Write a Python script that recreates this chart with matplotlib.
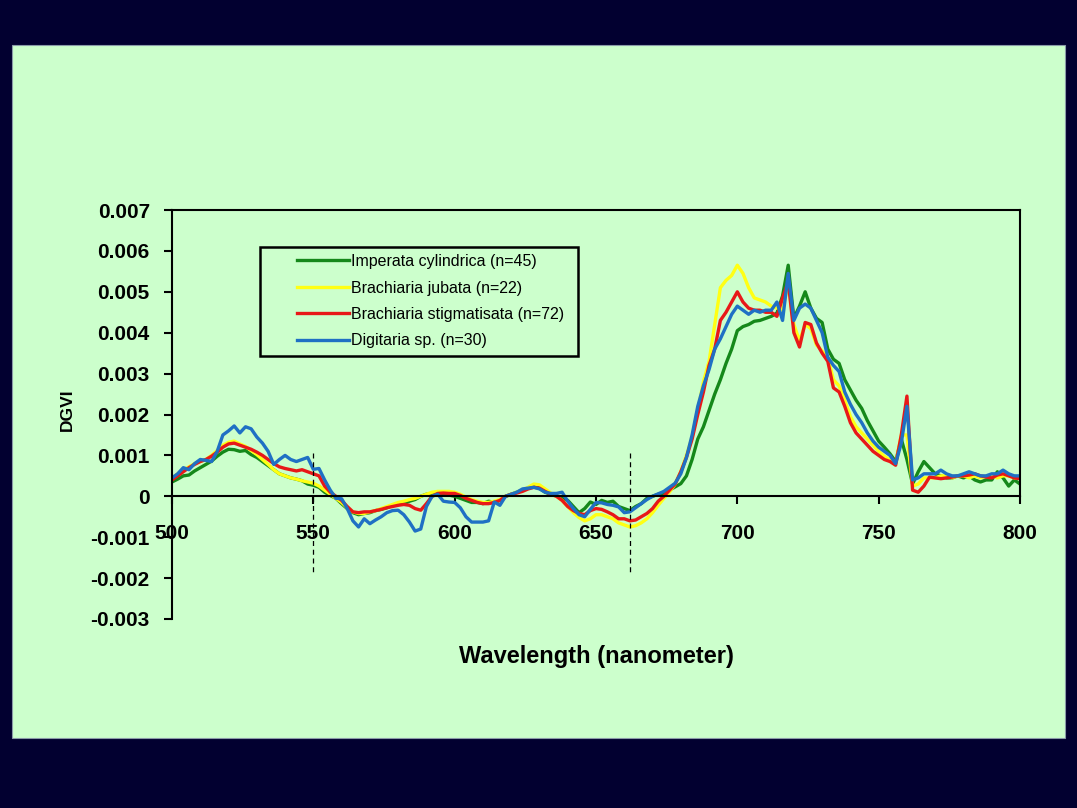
import matplotlib.pyplot as plt
from matplotlib.patches import Rectangle

plt.rcParams['font.family'] = ['Liberation Sans', 'DejaVu Sans']
plt.rcParams['axes.unicode_minus'] = False

# wavelength grid (nm), 2 nm steps
wavelength = list(range(500, 801, 2))

# DGVI values (x 0.001)
imperata = [
    0.35, 0.42, 0.50, 0.52, 0.62, 0.70, 0.78, 0.86, 0.98, 1.08,
    1.15, 1.14, 1.10, 1.12, 1.02, 0.95, 0.85, 0.75, 0.65, 0.55,
    0.50, 0.45, 0.42, 0.38, 0.30, 0.27, 0.22, 0.10, 0.02, -0.05,
    -0.18, -0.30, -0.40, -0.45, -0.42, -0.40, -0.35, -0.32, -0.28, -0.22,
    -0.20, -0.18, -0.12, -0.08, 0.00, 0.05, 0.05, 0.08, 0.05, 0.03,
    0.00, -0.05, -0.10, -0.15, -0.15, -0.18, -0.12, -0.15, -0.10, 0.00,
    0.05, 0.10, 0.15, 0.20, 0.27, 0.20, 0.10, 0.05, 0.02, -0.05,
    -0.10, -0.25, -0.40, -0.30, -0.14, -0.20, -0.10, -0.15, -0.12, -0.25,
    -0.30, -0.35, -0.25, -0.18, -0.05, 0.00, 0.05, 0.07, 0.15, 0.23,
    0.31, 0.50, 0.90, 1.40, 1.70, 2.10, 2.50, 2.85, 3.25, 3.60,
    4.05, 4.15, 4.20, 4.28, 4.30, 4.35, 4.40, 4.48, 4.90, 5.65,
    4.35, 4.65, 5.00, 4.60, 4.35, 4.25, 3.60, 3.35, 3.25, 2.85,
    2.60, 2.35, 2.15, 1.85, 1.60, 1.35, 1.20, 1.04, 0.85, 1.40,
    0.90, 0.30, 0.60, 0.85, 0.70, 0.55, 0.50, 0.45, 0.45, 0.50,
    0.45, 0.50, 0.40, 0.35, 0.40, 0.40, 0.60, 0.45, 0.25, 0.40,
    0.30,
]

jubata = [
    0.45, 0.55, 0.65, 0.72, 0.80, 0.85, 0.90, 1.00, 1.12, 1.25,
    1.32, 1.35, 1.28, 1.22, 1.12, 1.02, 0.90, 0.78, 0.65, 0.55,
    0.50, 0.45, 0.42, 0.38, 0.35, 0.32, 0.25, 0.15, 0.05, -0.05,
    -0.15, -0.28, -0.38, -0.42, -0.42, -0.38, -0.35, -0.30, -0.25, -0.20,
    -0.15, -0.12, -0.08, -0.05, 0.00, 0.05, 0.10, 0.12, 0.12, 0.12,
    0.10, 0.05, -0.02, -0.08, -0.12, -0.15, -0.15, -0.12, -0.08, 0.00,
    0.05, 0.10, 0.15, 0.22, 0.30, 0.28, 0.18, 0.08, 0.00, -0.10,
    -0.25, -0.40, -0.52, -0.60, -0.55, -0.45, -0.45, -0.50, -0.55, -0.65,
    -0.70, -0.75, -0.72, -0.65, -0.55, -0.40, -0.22, -0.05, 0.10, 0.30,
    0.60, 1.00, 1.45, 2.10, 2.80, 3.30, 4.20, 5.10, 5.28, 5.40,
    5.65, 5.45, 5.10, 4.85, 4.80, 4.75, 4.65, 4.60, 4.55, 5.20,
    4.20, 3.80, 4.20, 4.10, 3.70, 3.55, 3.40, 2.85, 2.70, 2.35,
    1.95, 1.70, 1.55, 1.40, 1.25, 1.10, 0.98, 0.88, 0.80, 1.50,
    1.50, 0.25, 0.30, 0.45, 0.45, 0.45, 0.50, 0.50, 0.45, 0.50,
    0.50, 0.45, 0.50, 0.45, 0.50, 0.50, 0.45, 0.50, 0.50, 0.45,
    0.45,
]

stigmatisata = [
    0.40, 0.50, 0.60, 0.70, 0.78, 0.85, 0.90, 0.98, 1.08, 1.20,
    1.28, 1.30, 1.25, 1.20, 1.15, 1.08, 1.00, 0.90, 0.80, 0.72,
    0.68, 0.65, 0.62, 0.65, 0.60, 0.55, 0.50, 0.25, 0.10, 0.00,
    -0.10, -0.25, -0.38, -0.40, -0.38, -0.38, -0.35, -0.32, -0.28, -0.25,
    -0.22, -0.20, -0.22, -0.30, -0.34, -0.18, 0.00, 0.07, 0.08, 0.07,
    0.07, 0.02, -0.05, -0.10, -0.15, -0.18, -0.18, -0.15, -0.10, 0.00,
    0.05, 0.08, 0.12, 0.18, 0.22, 0.20, 0.12, 0.05, 0.00, -0.10,
    -0.25, -0.35, -0.42, -0.45, -0.35, -0.30, -0.32, -0.38, -0.45, -0.55,
    -0.55, -0.60, -0.58, -0.50, -0.42, -0.30, -0.12, 0.00, 0.15, 0.30,
    0.60, 0.95, 1.40, 2.00, 2.55, 3.20, 3.60, 4.30, 4.50, 4.75,
    5.00, 4.75, 4.60, 4.55, 4.55, 4.50, 4.50, 4.40, 4.85, 5.25,
    4.00, 3.65, 4.25, 4.20, 3.75, 3.50, 3.30, 2.65, 2.55, 2.20,
    1.80, 1.55, 1.40, 1.25, 1.10, 1.00, 0.90, 0.85, 0.76, 1.50,
    2.45, 0.15, 0.10, 0.25, 0.47, 0.45, 0.43, 0.45, 0.47, 0.50,
    0.50, 0.52, 0.55, 0.50, 0.47, 0.45, 0.52, 0.55, 0.50, 0.45,
    0.43,
]

digitaria = [
    0.45, 0.55, 0.70, 0.65, 0.80, 0.90, 0.88, 0.85, 1.10, 1.50,
    1.60, 1.72, 1.55, 1.70, 1.65, 1.45, 1.30, 1.10, 0.78, 0.90,
    1.00, 0.90, 0.85, 0.90, 0.95, 0.66, 0.68, 0.40, 0.15, -0.05,
    -0.06, -0.30, -0.60, -0.75, -0.55, -0.67, -0.58, -0.50, -0.40, -0.35,
    -0.34, -0.45, -0.63, -0.85, -0.80, -0.25, 0.00, 0.05, -0.12, -0.14,
    -0.15, -0.28, -0.50, -0.63, -0.63, -0.63, -0.60, -0.14, -0.22, 0.00,
    0.05, 0.10, 0.18, 0.20, 0.22, 0.18, 0.10, 0.07, 0.07, 0.10,
    -0.12, -0.30, -0.45, -0.50, -0.32, -0.15, -0.16, -0.20, -0.22, -0.26,
    -0.40, -0.38, -0.28, -0.18, -0.08, 0.00, 0.06, 0.12, 0.22, 0.32,
    0.55, 0.95, 1.50, 2.20, 2.70, 3.10, 3.60, 3.85, 4.15, 4.45,
    4.65, 4.55, 4.45, 4.55, 4.50, 4.55, 4.55, 4.75, 4.30, 5.45,
    4.30, 4.60, 4.70, 4.60, 4.30, 4.00, 3.40, 3.20, 3.05, 2.55,
    2.25, 2.00, 1.80, 1.55, 1.35, 1.20, 1.10, 1.00, 0.80, 1.30,
    2.20, 0.40, 0.45, 0.55, 0.55, 0.55, 0.64, 0.55, 0.50, 0.50,
    0.55, 0.60, 0.55, 0.50, 0.50, 0.55, 0.55, 0.64, 0.55, 0.50,
    0.50,
]

series = [
    ("Imperata cylindrica (n=45)", imperata, "#15881a"),
    ("Brachiaria jubata (n=22)", jubata, "#ffff14"),
    ("Brachiaria stigmatisata (n=72)", stigmatisata, "#e81818"),
    ("Digitaria sp. (n=30)", digitaria, "#1f70c4"),
]

y_ticks = [-0.003, -0.002, -0.001, 0, 0.001, 0.002, 0.003, 0.004, 0.005, 0.006, 0.007]
x_ticks = [500, 550, 600, 650, 700, 750, 800]
marker_lines = [550, 662]

fig = plt.figure(figsize=(10.77, 8.08), dpi=100, facecolor="#020030")

# light green slide panel, behind everything
fig.patches.append(Rectangle((12 / 1077, 1 - 738 / 808), 1053 / 1077, 693 / 808,
                             transform=fig.transFigure, facecolor="#ccffcc",
                             edgecolor="#8a9aa8", linewidth=0.8, zorder=-5))

ax = fig.add_axes([172 / 1077, 1 - 619 / 808, 848 / 1077, 409 / 808])
ax.set_facecolor("none")

for label, vals, color in series:
    ax.plot(wavelength, [v * 0.001 for v in vals], color=color, lw=2.4, label=label)

for xv in marker_lines:
    ax.plot([xv, xv], [0.00105, -0.0019], color="black", lw=0.9, ls=(0, (4, 3)))

ax.set_xlim(500, 800)
ax.set_ylim(-0.003, 0.007)
ax.set_xticks(x_ticks)
ax.set_yticks(y_ticks)
ax.set_yticklabels(["0" if v == 0 else "%.3f" % v for v in y_ticks])

ax.spines["bottom"].set_position(("data", 0))
ax.spines["right"].set_bounds(0, 0.007)
for s in ax.spines.values():
    s.set_linewidth(1.5)
    s.set_color("black")

ax.tick_params(axis="both", direction="out", length=6, width=1.5,
               labelsize=15)
ax.tick_params(axis="y", pad=10)
ax.tick_params(axis="x", pad=14)
for t in ax.get_xticklabels() + ax.get_yticklabels():
    t.set_fontweight("bold")

ax.set_ylabel("DGVI", fontsize=12.5, fontweight="bold")
ax.yaxis.set_label_coords(-0.123, 0.512)
ax.yaxis.label.set_va("center")
ax.set_xlabel("Wavelength (nanometer)", fontsize=17, fontweight="bold")
ax.xaxis.set_label_coords(0.5, -0.064)

# legend box
ax.add_patch(Rectangle((260 / 1077, 1 - 356 / 808), 318 / 1077, 109 / 808,
                       transform=fig.transFigure, facecolor="#ccffcc",
                       edgecolor="black", linewidth=1.8, zorder=4, clip_on=False))
leg = ax.legend(loc="upper left", bbox_to_anchor=(297 / 1077, 1 - 254 / 808),
                bbox_transform=fig.transFigure, frameon=False, fontsize=11.5,
                handlelength=3.25, handletextpad=0.1, labelspacing=0.72,
                borderaxespad=0, borderpad=0)
leg.set_zorder(5)

fig.savefig("out.png", dpi=100, facecolor=fig.get_facecolor())
